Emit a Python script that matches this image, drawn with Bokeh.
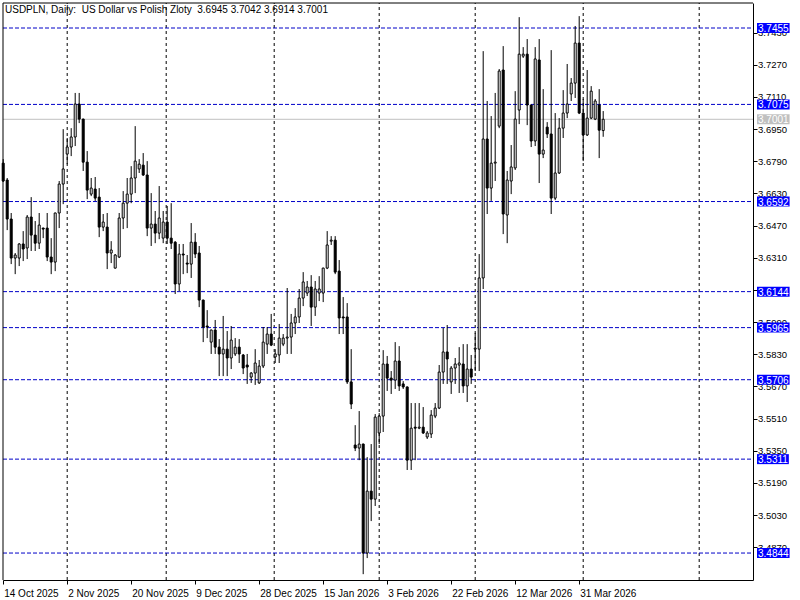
import numpy as np
from bokeh.plotting import figure
from bokeh.models import ColumnDataSource, Range1d, FixedTicker, Label, PrintfTickFormatter
from bokeh.embed import file_html
from bokeh.resources import INLINE

opens = [3.6783, 3.6699, 3.6505, 3.6311, 3.6311, 3.6381, 3.6361, 3.6515, 3.6425, 3.6385,
         3.6460, 3.6460, 3.6316, 3.6291, 3.6535, 3.6679, 3.6828, 3.6863, 3.6913, 3.7077,
         3.7002, 3.6788, 3.6629, 3.6654, 3.6614, 3.6465, 3.6465, 3.6336, 3.6261, 3.6316,
         3.6510, 3.6584, 3.6629, 3.6709, 3.6754, 3.6773, 3.6724, 3.6460, 3.6480, 3.6435,
         3.6410, 3.6490, 3.6410, 3.6390, 3.6182, 3.6331, 3.6286, 3.6281, 3.6390, 3.6336,
         3.6102, 3.5973, 3.5893, 3.5953, 3.5868, 3.5834, 3.5858, 3.5814, 3.5834, 3.5868,
         3.5829, 3.5779, 3.5719, 3.5739, 3.5690, 3.5774, 3.5883, 3.5933, 3.5819, 3.5829,
         3.5883, 3.5913, 3.5918, 3.5988, 3.6018, 3.6112, 3.6137, 3.6167, 3.6067, 3.6137,
         3.6137, 3.6261, 3.6395, 3.6400, 3.6246, 3.6018, 3.6018, 3.5695, 3.5381, 3.5366,
         3.5386, 3.4844, 3.5152, 3.5112, 3.5441, 3.5525, 3.5784, 3.5714, 3.5704, 3.5799,
         3.5685, 3.5670, 3.5306, 3.5470, 3.5465, 3.5470, 3.5421, 3.5436, 3.5525, 3.5565,
         3.5744, 3.5844, 3.5695, 3.5764, 3.5779, 3.5784, 3.5675, 3.5759, 3.5858, 3.5858,
         3.6212, 3.6903, 3.6659, 3.6783, 3.6967, 3.7246, 3.6525, 3.6694, 3.6759, 3.7047,
         3.7315, 3.7325, 3.7072, 3.6893, 3.7296, 3.6828, 3.6962, 3.6928, 3.6609, 3.6734,
         3.6957, 3.7032, 3.7127, 3.7181, 3.7380, 3.7032, 3.6923, 3.7007, 3.7002, 3.7072,
         3.6945]
highs = [3.6803, 3.6709, 3.6535, 3.6336, 3.6385, 3.6445, 3.6525, 3.6614, 3.6495, 3.6535,
         3.6462, 3.6535, 3.6410, 3.6537, 3.6694, 3.6952, 3.6908, 3.6957, 3.7132, 3.7132,
         3.7004, 3.6843, 3.6709, 3.6714, 3.6659, 3.6530, 3.6535, 3.6395, 3.6331, 3.6535,
         3.6644, 3.6709, 3.6768, 3.6967, 3.6803, 3.6833, 3.6793, 3.6634, 3.6545, 3.6669,
         3.6545, 3.6570, 3.6584, 3.6395, 3.6381, 3.6381, 3.6326, 3.6485, 3.6435, 3.6371,
         3.6104, 3.6052, 3.5955, 3.6003, 3.5908, 3.6023, 3.5948, 3.5973, 3.5913, 3.5908,
         3.5834, 3.5834, 3.5744, 3.5858, 3.5804, 3.5968, 3.5968, 3.6033, 3.5858, 3.5983,
         3.5933, 3.6162, 3.6033, 3.6062, 3.6157, 3.6241, 3.6197, 3.6226, 3.6197, 3.6221,
         3.6263, 3.6445, 3.6420, 3.6420, 3.6301, 3.6117, 3.6087, 3.5858, 3.5480, 3.5550,
         3.5388, 3.5321, 3.5386, 3.5535, 3.5540, 3.5853, 3.5824, 3.5749, 3.5893, 3.5873,
         3.5699, 3.5672, 3.5590, 3.5590, 3.5590, 3.5570, 3.5451, 3.5555, 3.5590, 3.5779,
         3.5963, 3.5978, 3.5774, 3.5814, 3.5868, 3.5883, 3.5883, 3.5829, 3.5938, 3.6331,
         3.7340, 3.7092, 3.7017, 3.7132, 3.7251, 3.7365, 3.6744, 3.6873, 3.7141, 3.7509,
         3.7360, 3.7400, 3.7074, 3.7360, 3.7400, 3.7151, 3.6987, 3.7345, 3.7032, 3.7007,
         3.7146, 3.7276, 3.7206, 3.7465, 3.7514, 3.7102, 3.7246, 3.7166, 3.7102, 3.7151,
         3.7042]
lows = [3.6689, 3.6450, 3.6281, 3.6231, 3.6271, 3.6296, 3.6306, 3.6346, 3.6346, 3.6356,
        3.6410, 3.6296, 3.6231, 3.6246, 3.6460, 3.6579, 3.6778, 3.6818, 3.6868, 3.6982,
        3.6744, 3.6604, 3.6619, 3.6595, 3.6415, 3.6445, 3.6256, 3.6286, 3.6259, 3.6311,
        3.6455, 3.6460, 3.6584, 3.6634, 3.6734, 3.6719, 3.6420, 3.6371, 3.6385, 3.6405,
        3.6385, 3.6381, 3.6356, 3.6132, 3.6147, 3.6231, 3.6236, 3.6212, 3.6311, 3.6067,
        3.5893, 3.5913, 3.5834, 3.5834, 3.5724, 3.5724, 3.5724, 3.5759, 3.5824, 3.5789,
        3.5734, 3.5685, 3.5690, 3.5680, 3.5685, 3.5764, 3.5834, 3.5873, 3.5789, 3.5789,
        3.5873, 3.5834, 3.5834, 3.5933, 3.5988, 3.6072, 3.6122, 3.5973, 3.6023, 3.6097,
        3.6092, 3.6256, 3.6376, 3.6231, 3.5933, 3.5933, 3.5685, 3.5560, 3.5351, 3.5306,
        3.4739, 3.4819, 3.5003, 3.5078, 3.5386, 3.5446, 3.5650, 3.5635, 3.5660, 3.5650,
        3.5660, 3.5257, 3.5257, 3.5306, 3.5460, 3.5436, 3.5411, 3.5416, 3.5515, 3.5560,
        3.5685, 3.5685, 3.5635, 3.5685, 3.5640, 3.5640, 3.5595, 3.5685, 3.5749, 3.5749,
        3.6157, 3.6530, 3.6595, 3.6694, 3.6957, 3.6430, 3.6385, 3.6629, 3.6749, 3.6977,
        3.7306, 3.6972, 3.6863, 3.6868, 3.6684, 3.6808, 3.6908, 3.6530, 3.6599, 3.6729,
        3.6908, 3.7007, 3.7092, 3.7107, 3.7027, 3.6793, 3.6918, 3.7002, 3.6997, 3.6808,
        3.6914]
closes = [3.6694, 3.6505, 3.6311, 3.6326, 3.6381, 3.6356, 3.6515, 3.6425, 3.6385, 3.6475,
          3.6455, 3.6316, 3.6291, 3.6535, 3.6679, 3.6754, 3.6863, 3.6913, 3.7077, 3.7002,
          3.6788, 3.6649, 3.6659, 3.6609, 3.6465, 3.6490, 3.6336, 3.6351, 3.6326, 3.6510,
          3.6584, 3.6629, 3.6709, 3.6793, 3.6778, 3.6724, 3.6460, 3.6480, 3.6435, 3.6510,
          3.6490, 3.6410, 3.6385, 3.6182, 3.6331, 3.6326, 3.6281, 3.6390, 3.6331, 3.6102,
          3.5968, 3.5968, 3.5953, 3.5868, 3.5834, 3.5858, 3.5814, 3.5903, 3.5868, 3.5834,
          3.5764, 3.5769, 3.5739, 3.5789, 3.5774, 3.5893, 3.5933, 3.5878, 3.5834, 3.5913,
          3.5913, 3.5918, 3.5988, 3.6018, 3.6112, 3.6192, 3.6167, 3.6067, 3.6157, 3.6157,
          3.6261, 3.6376, 3.6400, 3.6241, 3.6013, 3.6013, 3.5695, 3.5585, 3.5366, 3.5386,
          3.4844, 3.5152, 3.5112, 3.5520, 3.5525, 3.5784, 3.5714, 3.5704, 3.5799, 3.5675,
          3.5670, 3.5306, 3.5465, 3.5465, 3.5470, 3.5441, 3.5441, 3.5530, 3.5565, 3.5744,
          3.5844, 3.5809, 3.5764, 3.5784, 3.5789, 3.5675, 3.5759, 3.5719, 3.5863, 3.6212,
          3.6903, 3.6659, 3.6783, 3.6788, 3.7241, 3.6530, 3.6699, 3.6764, 3.7002, 3.7325,
          3.7325, 3.7072, 3.6893, 3.7301, 3.6828, 3.6848, 3.6928, 3.6609, 3.6734, 3.6957,
          3.7032, 3.7077, 3.7181, 3.7380, 3.7032, 3.6923, 3.7007, 3.7141, 3.7092, 3.6947,
          3.7001]

date_tick_bars = [0, 16, 32, 48, 64, 80, 96, 112, 128, 144]
date_tick_labels = ["14 Oct 2025", "2 Nov 2025", "20 Nov 2025", "9 Dec 2025", "28 Dec 2025",
                    "15 Jan 2026", "3 Feb 2026", "22 Feb 2026", "12 Mar 2026", "31 Mar 2026"]
price_ticks = [3.4870, 3.5030, 3.5190, 3.5350, 3.5510, 3.5670, 3.5830, 3.5990, 3.6150,
               3.6310, 3.6470, 3.6630, 3.6790, 3.6950, 3.7110, 3.7270, 3.7430]
levels = [3.7455, 3.7075, 3.6592, 3.6144, 3.5965, 3.5706, 3.5311, 3.4844]
month_grid_bars = [16, 40.75, 67.75, 94, 118, 145, 174]
symbol = "USDPLN"
period = "Daily"
description = "US Dollar vs Polish Zloty"

FONT = "Liberation Sans"
W, H = 800, 600
PX_BAR = 4.0              # pixels per bar
PX_UNIT = 2010.9          # pixels per price unit
XS = -2.7 / PX_BAR
XE = XS + W / PX_BAR
AXIS_X = XS + 752.5 / PX_BAR        # price-scale line position (in bars)
BORDER_X = XS + 2.5 / PX_BAR
YT = 3.7455 + 27.5 / PX_UNIT
YB = YT - H / PX_UNIT
AXIS_Y = YT - 579.5 / PX_UNIT       # time-scale line position (in price)
BORDER_Y = YT - 2.5 / PX_UNIT

o = np.array(opens)
c = np.array(closes)
src = ColumnDataSource(dict(
    x=np.arange(len(opens)),
    high=highs, low=lows,
    top=np.maximum(o, c), bottom=np.minimum(o, c),
    fill=np.where(c >= o, "white", "black"),
))

p = figure(width=W, height=H, output_backend="svg", toolbar_location=None,
           x_range=Range1d(XS, XE), y_range=Range1d(YB, YT),
           y_axis_location="right", min_border=0)
p.grid.visible = False
p.background_fill_color = "white"
p.border_fill_color = "white"
p.outline_line_color = None

xa = p.xaxis[0]
xa.fixed_location = AXIS_Y
xa.bounds = (BORDER_X, AXIS_X)
xa.ticker = FixedTicker(ticks=date_tick_bars)
xa.major_label_overrides = {b: "" for b in date_tick_bars}
xa.major_tick_out = 4
xa.major_tick_in = 0
xa.minor_tick_out = 0
xa.minor_tick_in = 0
xa.axis_line_color = "black"
xa.major_tick_line_color = "black"
xa.major_label_text_font_size = "9px"

ya = p.yaxis[0]
ya.fixed_location = AXIS_X
ya.bounds = (AXIS_Y, BORDER_Y)
ya.ticker = FixedTicker(ticks=price_ticks)
ya.formatter = PrintfTickFormatter(format="%.4f")
ya.major_tick_out = 4
ya.major_tick_in = 0
ya.minor_tick_out = 0
ya.minor_tick_in = 0
ya.major_label_standoff = 1
ya.axis_line_color = "black"
ya.major_tick_line_color = "black"
ya.major_label_text_font = FONT
ya.major_label_text_font_size = "9.5px"
ya.major_label_text_color = "black"

ng = len(month_grid_bars)
p.segment(x0=month_grid_bars, y0=[AXIS_Y] * ng, x1=month_grid_bars, y1=[BORDER_Y] * ng,
          line_color="black", line_dash="3 3", line_width=1, level="underlay")
nl = len(levels)
p.segment(x0=[BORDER_X] * nl, y0=levels, x1=[AXIS_X] * nl, y1=levels,
          line_color="#0000c8", line_dash="4 2", line_width=1, level="underlay")
p.segment(x0=[BORDER_X], y0=[closes[-1]], x1=[AXIS_X], y1=[closes[-1]],
          line_color="#c0c0c0", line_width=1, level="underlay")
# left and top border of the chart window
p.segment(x0=[BORDER_X, BORDER_X], y0=[AXIS_Y, BORDER_Y], x1=[BORDER_X, AXIS_X],
          y1=[BORDER_Y, BORDER_Y], line_color="black", line_width=1)

p.segment(x0="x", y0="low", x1="x", y1="high", source=src, line_color="black", line_width=1)
p.vbar(x="x", top="top", bottom="bottom", width=0.5, fill_color="fill",
       line_color="black", line_width=1, source=src)

# price boxes on the price scale
for lv in levels:
    p.add_layout(Label(x=AXIS_X, y=lv, text=f"{lv:.4f}", x_offset=4, text_baseline="middle",
                       text_align="left", text_color="white", text_font=FONT,
                       text_font_size="10px", background_fill_color="#0000ff", padding=1))
p.add_layout(Label(x=AXIS_X, y=closes[-1], text=f"{closes[-1]:.4f}", x_offset=4,
                   text_baseline="middle", text_align="left", text_color="white",
                   text_font=FONT, text_font_size="10px", background_fill_color="#c0c0c0",
                   padding=1))

# date labels under the time scale
for b, lab in zip(date_tick_bars, date_tick_labels):
    p.add_layout(Label(x=b, y=AXIS_Y, text=lab, x_offset=1, y_offset=-13,
                       text_baseline="alphabetic", text_align="left", text_color="black",
                       text_font=FONT, text_font_size="10px"))

title = (f"{symbol}, {period}:\u00a0 {description}\u00a0 "
         f"{opens[-1]:.4f} {highs[-1]:.4f} {lows[-1]:.4f} {closes[-1]:.4f}")
p.add_layout(Label(x=BORDER_X, y=BORDER_Y, text=title, x_offset=2, y_offset=-1,
                   text_baseline="top", text_align="left", text_color="black", text_font=FONT,
                   text_font_size="10px"))

open("out.html", "w").write(file_html(p, INLINE))
